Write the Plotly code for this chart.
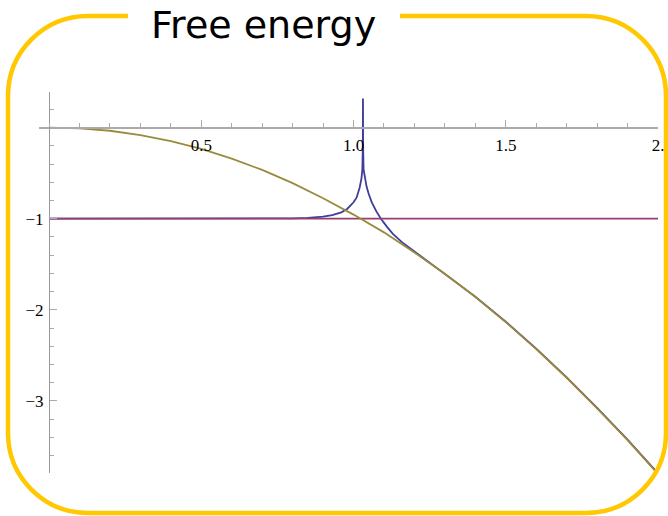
import plotly.graph_objects as go

# ---- data ----
gold_x = [0.0, 0.1, 0.2, 0.3, 0.4, 0.5, 0.6, 0.7, 0.8, 0.9, 1.0,
          1.1, 1.2, 1.3, 1.4, 1.5, 1.6, 1.7, 1.8, 1.9, 2.0]
gold_y = [0.0, -0.008, -0.035, -0.083, -0.15, -0.235, -0.34, -0.465, -0.61, -0.775, -0.955,
          -1.15, -1.37, -1.605, -1.86, -2.135, -2.43, -2.745, -3.08, -3.43, -3.8]

purple_x = [0.0, 2.0]
purple_y = [-1.0, -1.0]

blue_x = [0.0, 0.5, 0.7, 0.8, 0.85, 0.9, 0.93, 0.96, 0.98, 1.0, 1.01, 1.02, 1.026, 1.029,
          1.0305, 1.031, 1.0315, 1.033, 1.037, 1.043, 1.05, 1.06, 1.075, 1.09, 1.11, 1.13,
          1.16, 1.2, 1.25, 1.3, 1.4, 1.5, 1.6, 1.7, 1.8, 1.9, 2.0]
blue_y = [-1.0, -1.0, -0.999, -0.996, -0.99, -0.978, -0.962, -0.93, -0.89, -0.82, -0.77, -0.66, -0.56, -0.46,
          -0.2, 0.32, -0.2, -0.46, -0.56, -0.65, -0.73, -0.82, -0.92, -1.0, -1.09, -1.17,
          -1.26, -1.36, -1.48, -1.6, -1.855, -2.13, -2.425, -2.74, -3.075, -3.425, -3.795]

x_tickvals = [0.5, 1.0, 1.5, 2.0]
x_ticktext = ["0.5", "1.0", "1.5", "2."]
y_tickvals = [-3, -2, -1]
y_ticktext = ["\u22123", "\u22122", "\u22121"]

title_text = "Free energy"

# ---- layout geometry (pixels) ----
W, H = 668, 516
L, R, T, B = 39, 10, 92, 43
x_range = [-0.033, 2.0]
y_range = [-3.79, 0.39]
pw, ph = W - L - R, H - T - B


def px(xp):
    return (xp - L) / pw


def py(yp):
    return (H - B - yp) / ph


fig = go.Figure()
fig.add_trace(go.Scatter(x=blue_x, y=blue_y, mode="lines",
                         line=dict(color="#3F3D99", width=1.8), hoverinfo="skip"))
fig.add_trace(go.Scatter(x=purple_x, y=purple_y, mode="lines",
                         line=dict(color="#993D71", width=1.8), hoverinfo="skip"))
fig.add_trace(go.Scatter(x=gold_x, y=gold_y, mode="lines",
                         line=dict(color="#998B3D", width=1.8), hoverinfo="skip"))

# rounded border with a gap for the title
r = 80
k = 0.5523 * r
xl, xr, yt, yb = 8, 666, 16, 513


def P(a, b):
    return f"{px(a):.5f},{py(b):.5f}"


path = (
    f"M {P(128, yt)} L {P(xl + r, yt)} "
    f"C {P(xl + r - k, yt)} {P(xl, yt + r - k)} {P(xl, yt + r)} "
    f"L {P(xl, yb - r)} "
    f"C {P(xl, yb - r + k)} {P(xl + r - k, yb)} {P(xl + r, yb)} "
    f"L {P(xr - r, yb)} "
    f"C {P(xr - r + k, yb)} {P(xr, yb - r + k)} {P(xr, yb - r)} "
    f"L {P(xr, yt + r)} "
    f"C {P(xr, yt + r - k)} {P(xr - r + k, yt)} {P(xr - r, yt)} "
    f"L {P(400, yt)}"
)
fig.add_shape(type="path", path=path, xref="paper", yref="paper",
              line=dict(color="#FFC800", width=4.5), layer="above")

fig.add_annotation(text=title_text, x=px(263), y=py(25), xref="paper", yref="paper",
                   showarrow=False, xanchor="center", yanchor="middle",
                   font=dict(family="DejaVu Sans", size=38, color="black"))

axis_font = dict(family="Liberation Serif", size=17, color="black")
fig.update_layout(
    width=W, height=H,
    margin=dict(l=L, r=R, t=T, b=B, autoexpand=False),
    paper_bgcolor="white", plot_bgcolor="white",
    showlegend=False,
    xaxis=dict(range=x_range, anchor="free", automargin=False,
               position=(0 - y_range[0]) / (y_range[1] - y_range[0]),
               showgrid=False, zeroline=False, showline=True,
               linecolor="#AAAAAA", linewidth=1.5,
               tickvals=x_tickvals, ticktext=x_ticktext,
               ticks="inside", ticklen=7, tickcolor="#AAAAAA", tickwidth=1,
               tickfont=axis_font, ticklabelstandoff=2,
               minor=dict(dtick=0.1, tick0=0, ticks="inside", ticklen=4,
                          tickcolor="#AAAAAA", tickwidth=1, showgrid=False)),
    yaxis=dict(range=y_range, anchor="free", automargin=False,
               position=(0 - x_range[0]) / (x_range[1] - x_range[0]),
               showgrid=False, zeroline=False, showline=True,
               linecolor="#999999", linewidth=1.2,
               tickvals=y_tickvals, ticktext=y_ticktext,
               ticks="inside", ticklen=7, tickcolor="#AAAAAA", tickwidth=1,
               tickfont=axis_font, ticklabelstandoff=2,
               minor=dict(dtick=0.2, tick0=0, ticks="inside", ticklen=4,
                          tickcolor="#AAAAAA", tickwidth=1, showgrid=False)),
)

fig.write_html("out.html", config={"displayModeBar": False},
               post_script="document.body.style.margin='0';document.body.style.padding='0';")
